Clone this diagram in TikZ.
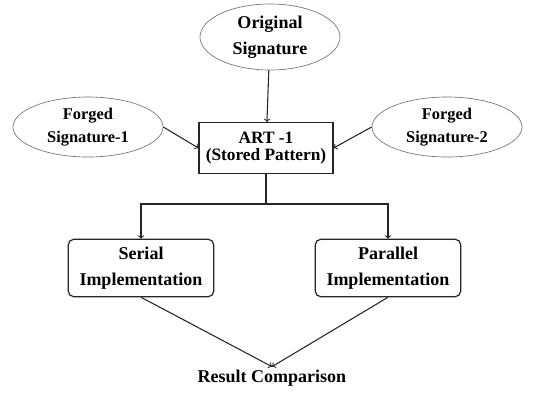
\documentclass[tikz,border=0pt]{standalone}
\usepackage{fontspec}
\setmainfont{Liberation Serif}
\usetikzlibrary{arrows,shapes.geometric}

\begin{document}
\begin{tikzpicture}[x=0.75pt,y=-0.75pt,->,line width=0.8pt,draw=black!85]
		\tikzstyle{sig}=[ellipse,draw=black!55,line width=0.5pt,align=center,inner sep=0pt,font=\fontsize{12.3}{17}\selectfont\bfseries]
		\tikzstyle{block}=[rectangle,draw=black!85,line width=0.9pt,align=center,font=\fontsize{13.5}{19}\selectfont\bfseries]
		\useasboundingbox (0,0) rectangle (558,394);
		\node[sig,minimum width=105pt,minimum height=49.5pt,font=\fontsize{13.5}{19.5}\selectfont\bfseries] (orig) at (270,37) {Original\\Signature};
		\node[sig,minimum width=112.5pt,minimum height=45pt] (forged1) at (88,127) {Forged\\Signature-1};
		\node[sig,minimum width=112.5pt,minimum height=45pt] (forged2) at (447,127) {Forged\\Signature-2};
		\node[block,minimum width=100.5pt,minimum height=38pt,font=\fontsize{13}{12.8}\selectfont\bfseries] (art) at (266,148) {ART -1\\(Stored Pattern)};
		\node[block,rounded corners=4pt,minimum width=109pt,minimum height=43pt] (serial) at (141,268) {Serial\\Implementation};
		\node[block,rounded corners=4pt,minimum width=109pt,minimum height=43pt] (parallel) at (388,268) {Parallel\\Implementation};
		\node[font=\fontsize{13.5}{19}\selectfont\bfseries,inner sep=2pt] (result) at (272,378) {Result Comparison};
		\coordinate (split) at (266,204);

		\draw (orig) -- (art);
		\draw (forged1.east) -- (art.west);
		\draw (forged2.west) -- (art.east);
		\draw[-] (art) -- (split);
		\draw (split) -| (serial);
		\draw (split) -| (parallel);
		\draw (serial.south) -- (result.north);
		\draw (parallel.south) -- (result.north);
\end{tikzpicture}
\end{document}
